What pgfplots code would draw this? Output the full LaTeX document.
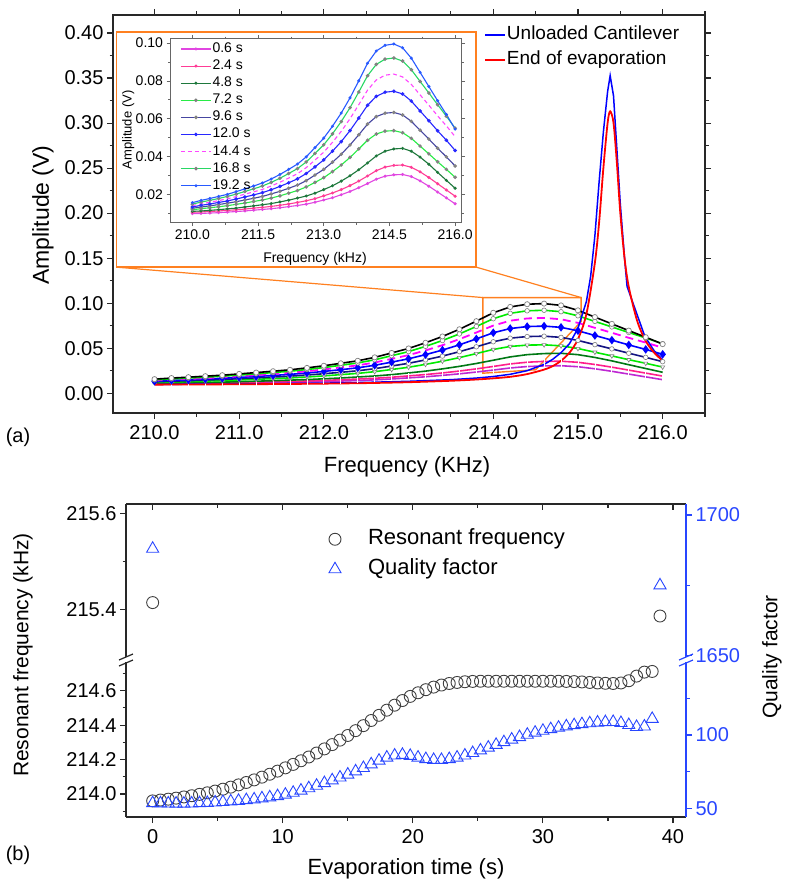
\documentclass[border=0pt]{standalone}
\usepackage{pgfplots}
\pgfplotsset{compat=1.18}
\usepackage{pgfplotstable}
\usepackage{fontspec}
\setmainfont{Liberation Sans}
\definecolor{orng}{RGB}{255,128,32}
\definecolor{qblue}{RGB}{40,70,255}
\definecolor{axgray}{RGB}{40,40,40}
\definecolor{cgreen}{RGB}{0,235,0}
\definecolor{dgreen}{RGB}{0,120,20}
\definecolor{cnavy}{RGB}{20,20,130}
\definecolor{cpink}{RGB}{255,30,140}
\definecolor{cpurp}{RGB}{190,40,210}
\definecolor{cmag}{RGB}{255,0,255}
% inset colours
\definecolor{i06}{RGB}{225,70,225}
\definecolor{i24}{RGB}{255,60,150}
\definecolor{i48}{RGB}{30,120,60}
\definecolor{i72}{RGB}{40,235,70}
\definecolor{i96}{RGB}{70,70,160}
\definecolor{i120}{RGB}{40,40,255}
\definecolor{i144}{RGB}{255,70,255}
\definecolor{i168}{RGB}{40,215,100}
\definecolor{i192}{RGB}{40,90,255}

\pgfplotstableread{
f c06 c24 c48 c72 c96 c120 c144 c168 c192
210.0 0.0098 0.0105 0.0110 0.0118 0.0126 0.0133 0.0140 0.0148 0.0156
210.2 0.0099 0.0107 0.0112 0.0124 0.0133 0.0142 0.0150 0.0159 0.0168
210.4 0.0101 0.0109 0.0115 0.0129 0.0139 0.0149 0.0158 0.0168 0.0178
210.6 0.0103 0.0112 0.0119 0.0134 0.0146 0.0157 0.0167 0.0178 0.0189
210.8 0.0106 0.0115 0.0123 0.0140 0.0153 0.0165 0.0176 0.0189 0.0200
211.0 0.0109 0.0118 0.0127 0.0147 0.0161 0.0175 0.0188 0.0201 0.0214
211.2 0.0112 0.0122 0.0133 0.0154 0.0170 0.0186 0.0201 0.0215 0.0229
211.4 0.0116 0.0127 0.0139 0.0162 0.0179 0.0197 0.0213 0.0229 0.0244
211.6 0.0120 0.0131 0.0145 0.0170 0.0189 0.0209 0.0226 0.0244 0.0260
211.8 0.0124 0.0136 0.0151 0.0180 0.0202 0.0224 0.0244 0.0263 0.0281
212.0 0.0129 0.0142 0.0160 0.0192 0.0216 0.0242 0.0264 0.0285 0.0305
212.2 0.0135 0.0149 0.0169 0.0206 0.0232 0.0261 0.0286 0.0310 0.0332
212.4 0.0141 0.0157 0.0180 0.0220 0.0249 0.0282 0.0309 0.0336 0.0360
212.6 0.0148 0.0166 0.0191 0.0239 0.0272 0.0310 0.0341 0.0371 0.0398
212.8 0.0158 0.0177 0.0206 0.0263 0.0302 0.0345 0.0381 0.0416 0.0447
213.0 0.0170 0.0192 0.0225 0.0288 0.0332 0.0382 0.0423 0.0462 0.0497
213.2 0.0182 0.0207 0.0245 0.0320 0.0370 0.0428 0.0475 0.0520 0.0560
213.4 0.0198 0.0225 0.0270 0.0355 0.0412 0.0479 0.0533 0.0585 0.0630
213.6 0.0215 0.0246 0.0298 0.0395 0.0461 0.0537 0.0600 0.0658 0.0710
213.8 0.0235 0.0270 0.0330 0.0440 0.0515 0.0603 0.0674 0.0741 0.0800
214.0 0.0257 0.0297 0.0366 0.0486 0.0571 0.0671 0.0751 0.0827 0.0893
214.2 0.0280 0.0325 0.0403 0.0519 0.0611 0.0718 0.0805 0.0887 0.0958
214.4 0.0296 0.0344 0.0428 0.0534 0.0629 0.0740 0.0830 0.0915 0.0988
214.6 0.0303 0.0353 0.0440 0.0537 0.0633 0.0745 0.0836 0.0921 0.0995
214.8 0.0305 0.0355 0.0443 0.0526 0.0620 0.0731 0.0821 0.0905 0.0975
215.0 0.0294 0.0343 0.0428 0.0496 0.0586 0.0693 0.0781 0.0859 0.0920
215.2 0.0271 0.0319 0.0397 0.0455 0.0539 0.0641 0.0726 0.0797 0.0845
215.4 0.0243 0.0289 0.0359 0.0414 0.0492 0.0589 0.0671 0.0736 0.0770
215.6 0.0212 0.0256 0.0316 0.0372 0.0444 0.0536 0.0615 0.0674 0.0695
215.8 0.0181 0.0223 0.0274 0.0332 0.0398 0.0486 0.0562 0.0613 0.0622
216.0 0.0150 0.0190 0.0232 0.0290 0.0350 0.0432 0.0505 0.0550 0.0545
}\curves

\pgfplotstableread{
f a
210.0 0.0098
210.5 0.0100
211.0 0.0103
211.5 0.0107
212.0 0.0112
212.5 0.0120
213.0 0.0132
213.5 0.0150
213.8 0.0168
214.0 0.0185
214.2 0.0210
214.4 0.0250
214.6 0.0320
214.7 0.0375
214.8 0.0450
214.9 0.0550
215.0 0.0720
215.1 0.1020
215.15 0.1300
215.2 0.1750
215.25 0.2350
215.3 0.2900
215.35 0.3350
215.38 0.3526
215.42 0.3300
215.46 0.2700
215.5 0.2100
215.55 0.1500
215.58 0.1185
215.79 0.0630
215.9 0.0470
216.0 0.0370
}\unloaded

\pgfplotstableread{
f a
210.0 0.0095
210.5 0.0097
211.0 0.0099
211.5 0.0102
212.0 0.0106
212.5 0.0112
213.0 0.0122
213.5 0.0138
213.8 0.0152
214.0 0.0165
214.2 0.0182
214.4 0.0212
214.6 0.0262
214.7 0.0300
214.8 0.0360
214.9 0.0450
215.0 0.0600
215.1 0.0880
215.2 0.1450
215.25 0.1900
215.3 0.2500
215.35 0.3000
215.38 0.3130
215.42 0.3000
215.46 0.2550
215.5 0.2000
215.55 0.1500
215.6 0.1180
215.7 0.0800
215.8 0.0580
215.9 0.0450
216.0 0.0360
}\endevap

\pgfplotstableread{
t fr Q
0.0 213.960 53.5
0.6 213.965 53.4
1.2 213.970 53.3
1.8 213.976 53.2
2.4 213.983 53.2
3.0 213.990 53.3
3.6 213.998 53.5
4.2 214.007 53.7
4.8 214.017 54.0
5.4 214.028 54.3
6.0 214.040 54.7
6.6 214.053 55.1
7.2 214.067 55.6
7.8 214.082 56.1
8.4 214.098 56.8
9.0 214.115 57.5
9.6 214.133 58.3
10.2 214.152 59.3
10.8 214.172 60.6
11.4 214.193 62.1
12.0 214.215 63.7
12.6 214.238 65.4
13.2 214.262 67.2
13.8 214.287 69.1
14.4 214.313 71.0
15.0 214.340 73.0
15.6 214.368 75.2
16.2 214.397 77.5
16.8 214.427 80.0
17.4 214.457 82.5
18.0 214.487 84.6
18.6 214.516 86.0
19.2 214.543 86.5
19.8 214.567 85.8
20.4 214.588 84.6
21.0 214.606 83.6
21.6 214.621 83.0
22.2 214.633 83.0
22.8 214.642 83.6
23.4 214.648 84.6
24.0 214.652 86.0
24.6 214.654 87.7
25.2 214.655 89.5
25.8 214.655 91.4
26.4 214.655 93.3
27.0 214.655 95.1
27.6 214.655 96.9
28.2 214.655 98.6
28.8 214.655 100.2
29.4 214.655 101.6
30.0 214.655 102.9
30.6 214.655 104.0
31.2 214.655 105.0
31.8 214.654 105.9
32.4 214.653 106.7
33.0 214.651 107.4
33.6 214.648 108.0
34.2 214.645 108.5
34.8 214.643 108.8
35.4 214.642 108.9
36.0 214.645 108.2
36.6 214.658 106.8
37.2 214.685 105.5
37.8 214.708 105.8
38.4 214.712 111.0
}\evap

\pgfplotsset{
  big/.style={
    scale only axis,
    tick align=outside,
    major tick length=6pt, minor tick length=3.5pt,
    axis line style={axgray, line width=1.2pt},
    tick style={axgray, line width=1.1pt},
    tick label style={font=\fontsize{20}{24}\selectfont},
    xticklabel style={yshift=-3pt},
    /pgf/number format/assume math mode=true,
    /pgf/number format/1000 sep={},
  },
}

\begin{document}
\begin{tikzpicture}
\useasboundingbox (0pt,0pt) rectangle (785pt,-885pt);

% ================= (a) main =================
\begin{axis}[big,
  at={(113pt,-413pt)}, anchor=south west,
  width=592pt, height=398pt,
  xmin=209.51, xmax=216.5, ymin=-0.022, ymax=0.42,
  xtick={210,211,212,213,214,215,216},
  minor xtick={209.5,210.5,211.5,212.5,213.5,214.5,215.5,216.5},
  ytick={0,0.05,0.10,0.15,0.20,0.25,0.30,0.35,0.40},
  minor ytick={0.025,0.075,0.125,0.175,0.225,0.275,0.325,0.375},
  xticklabel style={/pgf/number format/fixed, /pgf/number format/fixed zerofill, /pgf/number format/precision=1},
  yticklabel style={/pgf/number format/fixed, /pgf/number format/fixed zerofill, /pgf/number format/precision=2},
  clip=false,
  legend style={at={(0.627,0.976)}, anchor=north west, draw=none, fill=none,
    font=\fontsize{19}{22}\selectfont, inner sep=0pt, row sep=5pt,
    nodes={inner sep=1pt, text height=14pt, text depth=4pt}},
  legend cell align=left,
  legend image code/.code={\draw[#1, line width=1.6pt] (0pt,0pt) -- (20pt,0pt);},
]
% orange zoom decorations
\draw[orng, line width=1.4pt, fill=white] (axis cs:209.548,0.140) rectangle (axis cs:213.798,0.4011);
\draw[orng, line width=1.2pt] (axis cs:209.548,0.140) -- (axis cs:213.877,0.1062);
\draw[orng, line width=1.2pt] (axis cs:213.798,0.140) -- (axis cs:215.038,0.1062);
\draw[orng, line width=1.4pt] (axis cs:213.877,0.1062) -- (axis cs:213.877,0.0222) -- (axis cs:214.50,0.0260) -- (axis cs:215.038,0.0796) -- (axis cs:215.038,0.1062) -- cycle;

\addplot[forget plot, cpurp, line width=1.6pt, mark=|, mark size=2.5pt, mark options={white, line width=0.8pt}] table[x=f,y=c06] {\curves};
\addplot[forget plot, cpink, line width=1.6pt, mark=|, mark size=2.5pt, mark options={white, line width=0.8pt}] table[x=f,y=c24] {\curves};
\addplot[forget plot, dgreen, line width=1.6pt] table[x=f,y=c48] {\curves};
\addplot[forget plot, cgreen, line width=1.6pt, mark=triangle*, mark size=2.4pt, mark options={rotate=180, fill=white, draw=gray, line width=0.6pt}] table[x=f,y=c72] {\curves};
\addplot[forget plot, cnavy, line width=1.6pt, mark=*, mark size=2.3pt, mark options={fill=white, draw=gray, line width=0.6pt}] table[x=f,y=c96] {\curves};
\addplot[forget plot, blue, line width=1.6pt, mark=diamond*, mark size=3pt, mark options={fill=blue, draw=blue}] table[x=f,y=c120] {\curves};
\addplot[forget plot, cmag, line width=1.8pt, dash pattern=on 8pt off 5pt] table[x=f,y=c144] {\curves};
\addplot[forget plot, cgreen, line width=1.6pt, mark=*, mark size=2.3pt, mark options={fill=white, draw=gray, line width=0.6pt, solid}] table[x=f,y=c168] {\curves};
\addplot[forget plot, black, line width=1.6pt, mark=*, mark size=2.6pt, mark options={fill=white, draw=gray, line width=0.7pt}] table[x=f,y=c192] {\curves};
\addplot[blue, line width=1.5pt] table[x=f,y=a] {\unloaded};
\addlegendentry{Unloaded Cantilever}
\addplot[red, line width=1.8pt, smooth] table[x=f,y=a] {\endevap};
\addlegendentry{End of evaporation}
\end{axis}

% ================= inset =================
\begin{axis}[
  at={(170pt,-222.5pt)}, anchor=south west, scale only axis,
  width=291.7pt, height=184pt,
  xmin=209.49, xmax=216.15, ymin=0.0051, ymax=0.1024,
  tick align=outside,
  major tick length=3.5pt, minor tick length=2pt,
  axis line style={gray!80!black, line width=0.8pt},
  tick style={gray!80!black, line width=0.7pt},
  tick label style={font=\fontsize{14}{16}\selectfont},
  /pgf/number format/assume math mode=true,
  xtick={210,211.5,213,214.5,216},
  minor xtick={210.75,212.25,213.75,215.25},
  ytick={0.02,0.04,0.06,0.08,0.10},
  minor ytick={0.01,0.03,0.05,0.07,0.09},
  xticklabel style={/pgf/number format/fixed, /pgf/number format/fixed zerofill, /pgf/number format/precision=1},
  yticklabel style={/pgf/number format/fixed, /pgf/number format/fixed zerofill, /pgf/number format/precision=2},
  legend style={at={(0.035,0.985)}, anchor=north west, draw=none, fill=none,
    font=\fontsize{14}{16}\selectfont, inner sep=0pt, row sep=2.1pt,
    nodes={inner sep=1pt, text height=10pt, text depth=3pt}},
  legend cell align=left,
  legend image code/.code={\draw[#1, mark repeat=2, mark phase=2] plot coordinates {(0pt,0pt) (15pt,0pt) (30pt,0pt)};},
]
\addplot[i06, line width=1.1pt, mark=*, mark size=0.9pt] table[x=f,y=c06] {\curves};
\addlegendentry{0.6 s}
\addplot[i24, line width=1.1pt, mark=*, mark size=0.9pt] table[x=f,y=c24] {\curves};
\addlegendentry{2.4 s}
\addplot[i48, line width=1.1pt, mark=*, mark size=0.9pt] table[x=f,y=c48] {\curves};
\addlegendentry{4.8 s}
\addplot[i72, line width=1.1pt, mark=*, mark size=1.2pt, mark options={fill=lightgray, draw=gray}] table[x=f,y=c72] {\curves};
\addlegendentry{7.2 s}
\addplot[i96, line width=1.1pt, mark=*, mark size=1.2pt, mark options={fill=lightgray, draw=gray}] table[x=f,y=c96] {\curves};
\addlegendentry{9.6 s}
\addplot[i120, line width=1.1pt, mark=*, mark size=1.2pt] table[x=f,y=c120] {\curves};
\addlegendentry{12.0 s}
\addplot[i144, line width=1.1pt, dash pattern=on 4pt off 3pt] table[x=f,y=c144] {\curves};
\addlegendentry{14.4 s}
\addplot[i168, line width=1.1pt, mark=*, mark size=1.2pt, mark options={fill=lightgray, draw=gray}] table[x=f,y=c168] {\curves};
\addlegendentry{16.8 s}
\addplot[i192, line width=1.1pt, mark=*, mark size=0.9pt] table[x=f,y=c192] {\curves};
\addlegendentry{19.2 s}
\end{axis}
\node[font=\fontsize{14}{16}\selectfont] at (315pt,-259.3pt) {Frequency (kHz)};
\node[font=\fontsize{13}{15}\selectfont, rotate=90] at (128.3pt,-130pt) {Amplitude (V)};

% labels for (a)
\node[font=\fontsize{23}{27}\selectfont, rotate=90] at (43pt,-215pt) {Amplitude (V)};
\node[font=\fontsize{22}{26}\selectfont] at (407pt,-467pt) {Frequency (KHz)};
\node[font=\fontsize{20}{24}\selectfont] at (18pt,-437pt) {(a)};

% ================= (b) =================
% upper-left (frequency, outliers)
\begin{axis}[big,
  at={(126pt,-657pt)}, anchor=south west,
  width=560pt, height=153pt,
  xmin=-2.05, xmax=41, ymin=215.3006, ymax=215.6194,
  axis x line=none, axis y line*=left,
  ytick={215.4,215.6}, minor ytick={215.5},
  yticklabel style={/pgf/number format/fixed, /pgf/number format/fixed zerofill, /pgf/number format/precision=1},
  clip=false,
  legend style={at={(0.355,0.846)}, anchor=north west, draw=none, fill=none,
    font=\fontsize{22}{26}\selectfont, inner sep=0pt, row sep=7pt,
    nodes={inner sep=1pt, text height=16pt, text depth=5pt}},
  legend cell align=left,
  legend image code/.code={\path[draw=none] (0pt,0pt) (42pt,0pt); \draw[#1] plot coordinates {(10pt,0pt)};},
]
\addplot[only marks, mark=o, mark size=6pt, mark options={draw=black!75, line width=0.9pt}] coordinates {(0,215.414) (39.0,215.386)};
\addlegendentry{Resonant frequency}
\addlegendimage{only marks, mark=triangle, mark size=7pt, mark options={draw=qblue, line width=0.9pt}}
\addlegendentry{Quality factor}
\end{axis}
% top ticks
\begin{axis}[big,
  at={(126pt,-657pt)}, anchor=south west,
  width=560pt, height=153pt,
  xmin=-2.05, xmax=41, ymin=0, ymax=1,
  axis y line=none, axis x line*=top,
  tick align=inside,
  xtick={0,10,20,30,40}, minor xtick={5,15,25,35},
  xticklabels={},
]
\end{axis}
% upper-right (Q outliers)
\begin{axis}[big,
  at={(126pt,-657pt)}, anchor=south west,
  width=560pt, height=153pt,
  xmin=-2.05, xmax=41, ymin=1649.54, ymax=1703.9,
  axis x line=none, axis y line*=right,
  axis line style={qblue, line width=1.2pt},
  tick style={qblue, line width=1.1pt},
  yticklabel style={qblue},
  ytick={1650,1700}, minor ytick={1675},
  clip=false,
]
\addplot[only marks, mark=triangle, mark size=7pt, mark options={draw=qblue, line width=0.9pt}] coordinates {(0,1688) (39.0,1675)};
\end{axis}
% lower-left (frequency)
\begin{axis}[big,
  at={(126pt,-817pt)}, anchor=south west,
  width=560pt, height=155pt,
  xmin=-2.05, xmax=41, ymin=213.8664, ymax=214.7667,
  axis x line*=bottom, axis y line*=left,
  xtick={0,10,20,30,40}, minor xtick={5,15,25,35},
  ytick={214.0,214.2,214.4,214.6}, minor ytick={213.9,214.1,214.3,214.5,214.7},
  yticklabel style={/pgf/number format/fixed, /pgf/number format/fixed zerofill, /pgf/number format/precision=1},
  clip=false,
]
\addplot[only marks, mark=o, mark size=6pt, mark options={draw=black!75, line width=0.9pt}] table[x=t,y=fr] {\evap};
\end{axis}
% lower-right (Q)
\begin{axis}[big,
  at={(126pt,-817pt)}, anchor=south west,
  width=560pt, height=155pt,
  xmin=-2.05, xmax=41, ymin=44.07, ymax=149.8,
  axis x line=none, axis y line*=right,
  axis line style={qblue, line width=1.2pt},
  tick style={qblue, line width=1.1pt},
  yticklabel style={qblue},
  ytick={50,100}, minor ytick={75,125},
  clip=false,
]
\addplot[only marks, mark=triangle, mark size=7pt, mark options={draw=qblue, line width=0.9pt}] table[x=t,y=Q] {\evap};
\end{axis}

% axis breaks
\draw[axgray, line width=1.2pt] (119pt,-660pt) -- (133pt,-654pt);
\draw[axgray, line width=1.2pt] (119pt,-666pt) -- (133pt,-660pt);
\draw[qblue, line width=1.2pt] (679pt,-660pt) -- (693pt,-654pt);
\draw[qblue, line width=1.2pt] (679pt,-666pt) -- (693pt,-660pt);

% labels for (b)
\node[font=\fontsize{21}{25}\selectfont, rotate=90] at (23pt,-655pt) {Resonant frequency (kHz)};
\node[font=\fontsize{21}{25}\selectfont, rotate=90] at (772pt,-657pt) {Quality factor};
\node[font=\fontsize{22}{26}\selectfont] at (406pt,-869pt) {Evaporation time (s)};
\node[font=\fontsize{20}{24}\selectfont] at (18pt,-855pt) {(b)};
\end{tikzpicture}
\end{document}
